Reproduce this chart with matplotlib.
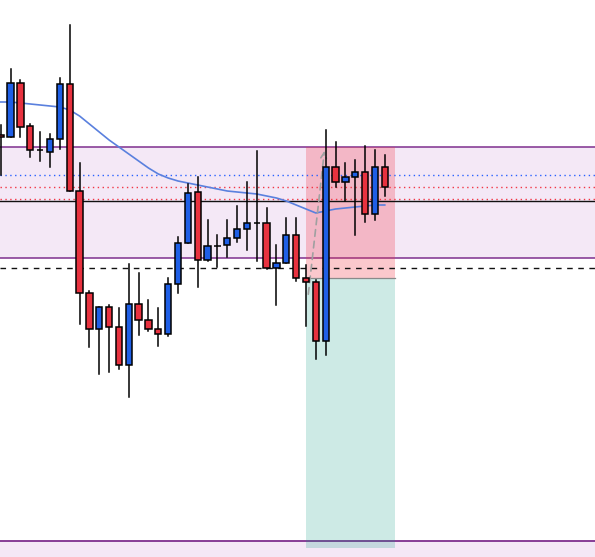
import numpy as np
import matplotlib
matplotlib.use("Agg")
import matplotlib.pyplot as plt
from matplotlib.patches import Rectangle

# candles (open, high, low, close), one per bar
opens = [422, 420, 474, 431, 407, 405, 418, 473, 366, 264,
         228, 250, 230, 192, 253, 237, 228, 223, 273, 314,
         365, 297, 311, 312, 319, 328, 334, 334, 289, 294,
         322, 279, 275, 216, 390, 375, 380, 385, 343, 390]
highs = [432, 488, 477, 433, 425, 423, 479, 532, 394, 266,
         250, 252, 249, 293, 284, 257, 249, 279, 320, 373,
         380, 337, 322, 337, 351, 375, 406, 349, 312, 339,
         339, 292, 277, 427, 415, 394, 397, 411, 407, 402]
lows = [382, 420, 420, 400, 396, 390, 408, 366, 233, 210,
        183, 185, 188, 160, 222, 226, 211, 221, 264, 314,
        270, 296, 290, 300, 315, 307, 296, 288, 252, 294,
        276, 231, 198, 202, 370, 356, 322, 335, 337, 361]
closes = [420, 474, 430, 407, 407, 418, 473, 366, 264, 228,
          250, 230, 192, 253, 237, 228, 223, 273, 314, 364,
          297, 311, 311, 319, 328, 334, 334, 289, 294, 322,
          279, 275, 216, 390, 375, 380, 385, 343, 390, 370]

# moving average
ma = [455, 455, 454, 453, 452, 451, 450, 447, 441, 433,
      425, 417, 410, 403, 396, 389, 383, 379, 376, 374,
      372, 370, 368, 366, 365, 364, 363, 361, 359, 356,
      352, 348, 344, 346, 348, 349, 350, 351, 352, 352]

# levels
zone_top, zone_bottom = 410, 299
low_zone = 16
blue_dot = 382
red_dots = [370, 358]
black_line = 356
dashed_line = 289

# long position tool
pos_start, pos_end = 31, 40
entry, stop, target = 279, 410, 9
path_x = [31.2, 32.9]
path_y = [260, 409]

up_col = '#1f5fe6'
down_col = '#e8323f'

fig = plt.figure(figsize=(5.95, 5.57), dpi=100)
ax = fig.add_axes([0, 0, 1, 1])
ax.set_xlim(-0.08, 60.35)
ax.set_ylim(0, 557)
ax.axis('off')

# supply / demand zones
ax.axhspan(zone_bottom, zone_top, color='#9c27b0', alpha=0.1, lw=0, zorder=1)
ax.axhline(zone_top, color='#7e2f8e', lw=1.1, zorder=2)
ax.axhline(zone_bottom, color='#7e2f8e', lw=1.1, zorder=2)
ax.axhspan(-10, low_zone, color='#9c27b0', alpha=0.1, lw=0, zorder=1)
ax.axhline(low_zone, color='#7e2f8e', lw=1.3, zorder=2)

# position boxes
w = pos_end - pos_start
ax.add_patch(Rectangle((pos_start, entry), w, stop - entry,
                       facecolor='#f23645', alpha=0.27, lw=0, zorder=3))
ax.add_patch(Rectangle((pos_start, target), w, entry - target,
                       facecolor='#089981', alpha=0.2, lw=0, zorder=3))
ax.plot([pos_start, pos_end], [entry, entry], color='#8a8a8a', lw=0.9, zorder=3)

# level lines
ax.axhline(blue_dot, color='#2962ff', lw=1, ls=(0, (1, 2.5)), zorder=4)
for r in red_dots:
    ax.axhline(r, color='#f23645', lw=1, ls=(0, (1, 2.5)), zorder=4)
ax.axhline(black_line, color='#111111', lw=1, zorder=4)
ax.axhline(dashed_line, color='#111111', lw=1, ls=(0, (4, 4)), zorder=4)

# moving average
x = np.arange(len(closes))
ax.plot(x, ma, color='#5a80de', lw=1.2, zorder=5, solid_joinstyle='round')

# projected path
ax.annotate('', xy=(path_x[1], path_y[1]), xytext=(path_x[0], path_y[0]),
            arrowprops=dict(arrowstyle='->', color='#a0a0a0', lw=1.2,
                            ls=(0, (4, 3)), mutation_scale=10), zorder=5)

# candles
bw = 0.64
for i in range(len(closes)):
    o, h, l, c = opens[i], highs[i], lows[i], closes[i]
    col = up_col if c > o else down_col
    ax.plot([i, i], [l, h], color='black', lw=1.1, zorder=6)
    ax.add_patch(Rectangle((i - bw / 2, min(o, c)), bw, max(abs(c - o), 0.01),
                           facecolor=col, edgecolor='black', lw=1.1, zorder=7))

plt.savefig("out.png", dpi=100)
